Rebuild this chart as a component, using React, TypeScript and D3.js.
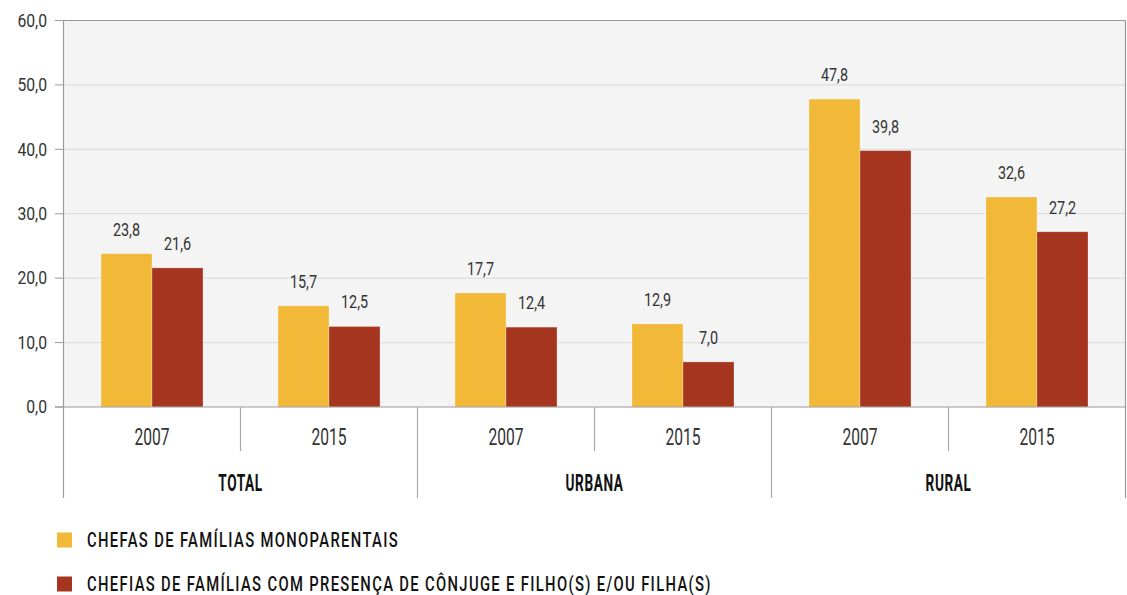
import React from 'react';
import * as d3 from 'd3';

const groups = ['TOTAL', 'URBANA', 'RURAL'];
const years = ['2007', '2015'];
const seriesNames = [
  'CHEFAS DE FAMÍLIAS MONOPARENTAIS',
  'CHEFIAS DE FAMÍLIAS COM PRESENÇA DE CÔNJUGE E FILHO(S) E/OU FILHA(S)',
];
const monoparentais = [23.8, 15.7, 17.7, 12.9, 47.8, 32.6];
const comConjuge = [21.6, 12.5, 12.4, 7.0, 39.8, 27.2];
const yTicks = [0, 10, 20, 30, 40, 50, 60];

const colors = ['#F2B938', '#A5351E'];
const font = 'Roboto, "DejaVu Sans", sans-serif';

const fmt = (v: number) => d3.format('.1f')(v).replace('.', ',');

// condensed text: the reference font is narrow, so squeeze horizontally
function NText(props: {
  x: number; y: number; sx: number; size: number; anchor?: string;
  weight?: number | string; ls?: number; fill?: string; dy?: string; children: React.ReactNode;
}) {
  const { x, y, sx, size, anchor = 'start', weight = 400, ls = 0, fill = '#333', dy, children } = props;
  return (
    <text
      transform={`translate(${x},${y}) scale(${sx},1)`}
      textAnchor={anchor}
      fontFamily={font}
      fontSize={size}
      fontWeight={weight}
      letterSpacing={ls}
      fill={fill}
      dy={dy}
    >
      {children}
    </text>
  );
}

export default function App() {
  const width = 1127;
  const height = 595;
  const left = 63.5;
  const right = 1125.5;
  const top = 20.5;
  const bottom = 407;
  const axisBottom = 498;

  // one key per group/year pair
  const keys = groups.flatMap(g => years.map(y => `${g}|${y}`));
  const values = [monoparentais, comConjuge];

  const x = d3.scaleBand().domain(keys).range([left, right]);
  const inner = d3.scaleBand().domain(['0', '1']).range([0, x.bandwidth()]).paddingOuter(0.735);
  const y = d3.scaleLinear().domain([0, 60]).range([bottom, top]);

  return (
    <svg width={width} height={height} style={{ position: 'absolute', left: 0, top: 0 }}>
      <rect x={left} y={top} width={right - left} height={bottom - top} fill="#f4f4f4" />

      {yTicks.map(t => (
        <g key={t}>
          {t > 0 && t < 60 && (
            <line x1={left} x2={right} y1={y(t)} y2={y(t)} stroke="#dadada" strokeWidth={1} />
          )}
          <line x1={55} x2={left} y1={y(t)} y2={y(t)} stroke="#999" strokeWidth={1} />
          <NText x={47} y={y(t)} dy="0.36em" anchor="end" size={17.5} sx={0.9}>
            {fmt(t)}
          </NText>
        </g>
      ))}
      <line x1={left} x2={right} y1={top} y2={top} stroke="#999" strokeWidth={1.2} />

      {keys.map((k, i) =>
        values.map((vals, s) => {
          const bx = (x(k) as number) + (inner(String(s)) as number);
          const v = vals[i];
          return (
            <g key={k + s}>
              <rect
                x={bx}
                y={y(v)}
                width={inner.bandwidth()}
                height={bottom - y(v)}
                fill={colors[s]}
                stroke="#fff"
                strokeOpacity={0.35}
                strokeWidth={0.8}
              />
              <NText x={bx + inner.bandwidth() / 2} y={y(v) - 18} anchor="middle" size={18} sx={0.8}>
                {fmt(v)}
              </NText>
            </g>
          );
        })
      )}

      <line x1={55} x2={right} y1={bottom} y2={bottom} stroke="#999" strokeWidth={1.2} />
      <line x1={left} x2={left} y1={top} y2={axisBottom} stroke="#999" strokeWidth={1.2} />
      <line x1={right} x2={right} y1={top} y2={axisBottom} stroke="#999" strokeWidth={1.2} />

      {keys.map((k, i) => {
        const x0 = x(k) as number;
        const cx = x0 + x.bandwidth() / 2;
        return (
          <g key={'lab' + k}>
            <NText x={cx} y={444.5} anchor="middle" size={24} sx={0.65}>
              {k.split('|')[1]}
            </NText>
            {i > 0 && (
              <line
                x1={x0}
                x2={x0}
                y1={bottom}
                y2={i % 2 === 0 ? axisBottom : 451}
                stroke="#aaa"
                strokeWidth={1.2}
              />
            )}
          </g>
        );
      })}

      {groups.map(g => {
        const x0 = x(`${g}|${years[0]}`) as number;
        return (
          <NText key={g} x={x0 + x.bandwidth()} y={491} anchor="middle" size={23.5} sx={0.58} weight="bold" ls={1} fill="#111">
            {g}
          </NText>
        );
      })}

      {seriesNames.map((name, s) => (
        <g key={name} transform={`translate(57, ${532.5 + s * 44})`}>
          <rect width={15} height={15} fill={colors[s]} />
          <NText x={30} y={14.5} size={19.7} sx={0.75} weight={500} ls={1.8} fill="#111">
            {name}
          </NText>
        </g>
      ))}
    </svg>
  );
}
